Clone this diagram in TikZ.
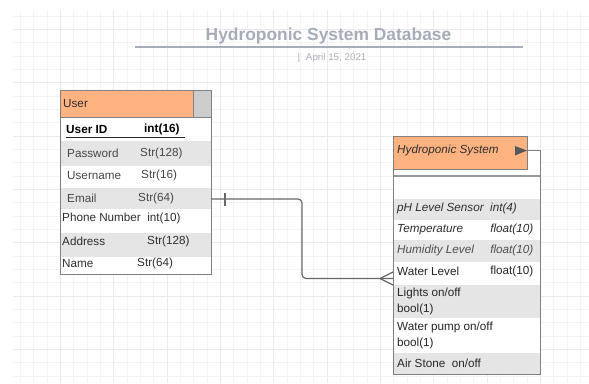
\documentclass[tikz,border=0pt]{standalone}
\usepackage{fontspec}
\setmainfont{Liberation Sans}
\definecolor{gridminor}{HTML}{F4F4F4}
\definecolor{gridmajor}{HTML}{EBEBEB}
\definecolor{hdrorange}{HTML}{FFB381}
\definecolor{hdrgray}{HTML}{CCCCCC}
\definecolor{rowgray}{HTML}{E5E5E5}
\definecolor{edge}{HTML}{808080}
\definecolor{ink}{HTML}{2E2E2E}
\definecolor{softink}{HTML}{464646}
\definecolor{titleink}{HTML}{A7ADB8}
\definecolor{dateink}{HTML}{ABAFB7}
\definecolor{linkc}{HTML}{686868}
\begin{document}
\begin{tikzpicture}[x=1pt,y=-1pt,
  cell/.style={anchor=west,inner sep=0pt,text=ink,font=\fontsize{11.7}{13}\selectfont},
  icell/.style={cell,font=\fontsize{11.7}{13}\selectfont\itshape},
  rowfill/.style={fill=rowgray,draw=none},
  frame/.style={draw=edge,line width=0.8pt},
  link/.style={draw=linkc,line width=1.2pt,line join=round},
]
\useasboundingbox (0,0) rectangle (589,383);
\fill[white] (0,0) rectangle (589,383);

% background grid
\foreach \k in {1,...,43} \draw[gridminor,line width=0.6pt] ({7+13.333*\k},10) -- ({7+13.333*\k},383);
\foreach \k in {1,...,28} \draw[gridminor,line width=0.6pt] (13,{2.667+13.333*\k}) -- (589,{2.667+13.333*\k});
\foreach \k in {4,8,...,40} \draw[gridmajor,line width=0.7pt] ({7+13.333*\k},10) -- ({7+13.333*\k},383);
\foreach \k in {2,6,...,26} \draw[gridmajor,line width=0.7pt] (13,{2.667+13.333*\k}) -- (589,{2.667+13.333*\k});

% title block
\node[inner sep=0pt,text=titleink,font=\fontsize{17.4}{20}\selectfont\bfseries] (title) at (328.5,36) {Hydroponic System Database};
\coordinate (ruleL) at (135,47);
\coordinate (ruleR) at (523,47);
\draw[titleink,line width=1.4pt] (ruleL) -- (ruleR);
\node[inner sep=0pt,text=dateink,font=\fontsize{9.8}{12}\selectfont] (date) at (332,58) {|\hspace{0.6em}April 15, 2021};

% ---------- User table ----------
\node[frame,fill=hdrorange,anchor=north west,minimum width=133pt,minimum height=27pt,inner sep=0pt] (uhead) at (60,90) {};
\node[frame,fill=hdrgray,anchor=north west,minimum width=18pt,minimum height=27pt,inner sep=0pt] (ucorner) at (193,90) {};
\node[cell] (utitle) at (63,103.5) {User};
\node[frame,fill=white,anchor=north west,minimum width=151pt,minimum height=157pt,inner sep=0pt] (ubody) at (60,117) {};
\node[rowfill,anchor=north west,minimum width=150pt,minimum height=25pt,inner sep=0pt] (upass) at (60.5,141) {};
\node[rowfill,anchor=north west,minimum width=150pt,minimum height=21pt,inner sep=0pt] (uemail) at (60.5,187.5) {};
\node[rowfill,anchor=north west,minimum width=150pt,minimum height=24pt,inner sep=0pt] (uaddr) at (60.5,232.5) {};
\coordinate (uemailR) at (211,199);

\node[cell,font=\fontsize{11.8}{13}\selectfont\bfseries,text=black] (uid) at (66,129) {User ID};
\node[cell,font=\fontsize{11.8}{13}\selectfont\bfseries,text=black] (uidt) at (144,129) {int(16)};
\draw[black!85,line width=1.6pt] (66,137.5) -- (185,137.5);
\node[cell,text=softink] (pw) at (67,153) {Password};
\node[cell,text=softink] (pwt) at (140,153) {Str(128)};
\node[cell,text=softink] (un) at (67,175.5) {Username};
\node[cell,text=softink] (unt) at (141,175.5) {Str(16)};
\node[cell,text=softink] (em) at (67,198) {Email};
\node[cell,text=softink] (emt) at (138,198) {Str(64)};
\node[cell] (ph) at (62,218.5) {Phone Number\ \ int(10)};
\node[cell] (ad) at (62,241.5) {Address};
\node[cell] (adt) at (147,241.5) {Str(128)};
\node[cell] (nm) at (62,263.5) {Name};
\node[cell] (nmt) at (137,263.5) {Str(64)};

% ---------- Hydroponic System table ----------
\node[frame,fill=white,anchor=north west,minimum width=147pt,minimum height=224pt,inner sep=0pt] (hbody) at (393,150) {};
\node[rowfill,anchor=north west,minimum width=146pt,minimum height=21pt,inner sep=0pt] (hph) at (393.5,198.5) {};
\node[rowfill,anchor=north west,minimum width=146pt,minimum height=22pt,inner sep=0pt] (hhum) at (393.5,240) {};
\node[rowfill,anchor=north west,minimum width=146pt,minimum height=33pt,inner sep=0pt] (hlight) at (393.5,285) {};
\node[rowfill,anchor=north west,minimum width=146pt,minimum height=20.5pt,inner sep=0pt] (hair) at (393.5,353) {};
\draw[frame,line width=1.2pt,draw=edge!80] (393,176) -- (540,176);
\draw[frame] (hbody.north west) rectangle (hbody.south east);
\draw[frame] (393,150) -- (393,136);
\node[frame,fill=hdrorange,anchor=north west,minimum width=134pt,minimum height=33pt,inner sep=0pt] (hhead) at (393,136) {};
\coordinate (hwaterL) at (393,278.5);

\node[icell] (htitle) at (397,150.5) {Hydroponic System};
\fill[softink!90] (515,146) -- (527,150.5) -- (515,155.5) -- cycle;

\node[icell] (h1) at (397,208.5) {pH Level Sensor\ \ int(4)};
\node[icell] (h2) at (397,229.5) {Temperature};
\node[icell,anchor=east] (h2t) at (533.5,229.5) {float(10)};
\node[icell,text=softink!95] (h3) at (397,250.5) {Humidity Level};
\node[icell,text=softink!95,anchor=east] (h3t) at (533.5,250.5) {float(10)};
\node[cell,text=black!85] (h4) at (397,271.5) {Water Level};
\node[cell,text=black!85,anchor=east] (h4t) at (533.5,271.5) {float(10)};
\node[cell,text=black!85] (h5) at (397,293) {Lights on/off};
\node[cell,text=black!85] (h5b) at (397,309.5) {bool(1)};
\node[cell,text=black!85] (h6) at (397,327.5) {Water pump on/off};
\node[cell,text=black!85] (h6b) at (397,343.5) {bool(1)};
\node[cell,text=black!85] (h7) at (397,363) {Air Stone\ \ on/off};

% ---------- relationship ----------
\coordinate (bend) at (302,0);
\draw[link,rounded corners=4pt] (uemailR) -| (bend |- hwaterL) -- (hwaterL);
% one-side bar
\coordinate (barT) at (225,192.5);
\coordinate (barB) at (225,205.5);
\draw[link] (barT) -- (barB);
% crow's foot
\coordinate (foot) at (380,278.5);
\coordinate (footT) at (393,272);
\coordinate (footB) at (393,285);
\draw[link] (footT) -- (foot) -- (footB);
\end{tikzpicture}
\end{document}
